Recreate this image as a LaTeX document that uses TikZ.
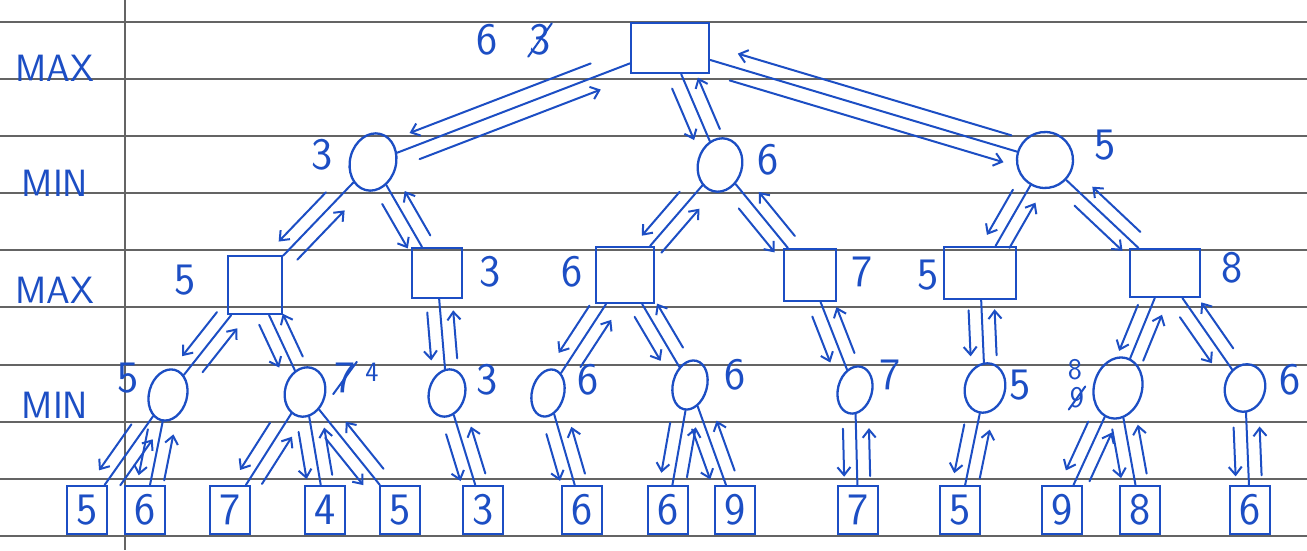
\documentclass[tikz,border=0pt]{standalone}
\usepackage{fontspec}
\usetikzlibrary{arrows.meta,shapes.geometric,calc}
\definecolor{penblue}{RGB}{28,78,196}
\definecolor{rulegray}{RGB}{100,100,100}
\newcommand\handfont{\sffamily\fontsize{45}{47}\selectfont}
\tikzset{
  pen/.style={penblue,line width=2pt,line cap=round},
  ruled/.style={rulegray,line width=1.3pt},
  godown/.style={pen,-{Straight Barb[length=8pt,width=13pt]}},
  goup/.style={pen,-{Straight Barb[length=8pt,width=13pt]}},
  maxbox/.style n args={2}{draw=penblue,line width=2.3pt,inner sep=0pt,
                           minimum width=#1,minimum height=#2},
  minoval/.style n args={2}{ellipse,draw=penblue,line width=2.3pt,inner sep=0pt,
                            minimum width=#1,minimum height=#2,rotate=-15},
  leaf/.style={draw=penblue,line width=2.3pt,inner sep=0pt,minimum width=40pt,
               minimum height=48pt,text=penblue,font=\handfont},
  val/.style={text=penblue,font=\handfont,inner sep=1pt},
  crossed/.style={append after command={(\tikzlastnode.north east) edge[pen] (\tikzlastnode.south west)}},
  row/.style={text=penblue,font=\sffamily\fontsize{38}{40}\selectfont,inner sep=0pt}
}
\begin{document}
\begin{tikzpicture}[x=1pt,y=-1pt]
  % paper with ruled lines and margin
  \fill[white] (0,0) rectangle (1307,550);
  \useasboundingbox (0,0) rectangle (1307,550);
  \foreach \y in {22,79,136,193,250,307,365,422,479,536} {\draw[ruled] (0,\y)--(1307,\y);}
  \draw[ruled] (125,0)--(125,550);

  % players per level
  \node[row] at (55,68) {MAX};
  \node[row] at (55,183) {MIN};
  \node[row] at (55,290) {MAX};
  \node[row] at (55,405) {MIN};

  % root and first MIN level
  \node[maxbox={78pt}{50pt}] (r) at (670,48) {};
  \node[minoval={46pt}{58pt}] (a) at (373,162) {};
  \node[minoval={44pt}{54pt}] (b) at (720,165) {};
  \node[minoval={56pt}{56pt}] (c) at (1045,160) {};

  % second MAX level
  \node[maxbox={54pt}{58pt}] (aa) at (255,285) {};
  \node[maxbox={50pt}{50pt}] (ab) at (437,273) {};
  \node[maxbox={58pt}{56pt}] (ba) at (625,275) {};
  \node[maxbox={52pt}{52pt}] (bb) at (810,275) {};
  \node[maxbox={72pt}{52pt}] (ca) at (980,273) {};
  \node[maxbox={70pt}{48pt}] (cb) at (1165,273) {};

  % second MIN level
  \node[minoval={38pt}{52pt}] (aaa) at (168,395) {};
  \node[minoval={40pt}{50pt}] (aab) at (305,392) {};
  \node[minoval={36pt}{48pt}] (aba) at (447,393) {};
  \node[minoval={32pt}{48pt}] (baa) at (548,393) {};
  \node[minoval={34pt}{50pt}] (bab) at (690,385) {};
  \node[minoval={34pt}{48pt}] (bba) at (855,390) {};
  \node[minoval={40pt}{50pt}] (caa) at (985,388) {};
  \node[minoval={48pt}{62pt}] (cba) at (1118,388) {};
  \node[minoval={40pt}{48pt}] (cbb) at (1245,388) {};

  % terminal values
  \node[leaf] (l1) at (87,510) {5};
  \node[leaf] (l2) at (145,510) {6};
  \node[leaf] (l3) at (230,510) {7};
  \node[leaf] (l4) at (325,510) {4};
  \node[leaf] (l5) at (400,510) {5};
  \node[leaf] (l6) at (483,510) {3};
  \node[leaf] (l7) at (582,510) {6};
  \node[leaf] (l8) at (668,510) {6};
  \node[leaf] (l9) at (735,510) {9};
  \node[leaf] (l10) at (858,510) {7};
  \node[leaf] (l11) at (960,510) {5};
  \node[leaf] (l12) at (1062,510) {9};
  \node[leaf] (l13) at (1140,510) {8};
  \node[leaf] (l14) at (1250,510) {6};

  % backed-up values
  \node[val] (rv) at (487,40) {6};
  \node[val,crossed] (rvold) at (540,40) {3};
  \node[val] (av) at (322,155) {3};
  \node[val] (bv) at (768,160) {6};
  \node[val] (cv) at (1105,145) {5};
  \node[val] (aav) at (185,280) {5};
  \node[val] (abv) at (490,272) {3};
  \node[val] (bav) at (572,272) {6};
  \node[val] (bbv) at (862,272) {7};
  \node[val] (cav) at (928,275) {5};
  \node[val] (cbv) at (1232,268) {8};
  \node[val] (aaav) at (128,378) {5};
  \node[val,crossed] (aabold) at (345,378) {7};
  \node[val,font=\sffamily\fontsize{28}{30}\selectfont] (aabv) at (372,372) {4};
  \node[val] (abav) at (487,380) {3};
  \node[val] (baav) at (588,380) {6};
  \node[val] (babv) at (735,375) {6};
  \node[val] (bbav) at (890,375) {7};
  \node[val] (caav) at (1020,385) {5};
  \node[val,font=\sffamily\fontsize{30}{32}\selectfont] (cbav) at (1075,370) {8};
  \node[val,crossed,font=\sffamily\fontsize{30}{32}\selectfont] (cbaold) at (1077,398) {9};
  \node[val] (cbbv) at (1290,380) {6};

  % edges with the search going down (left) and values coming up (right)
  \foreach \p/\q/\s/\e in {r/a/.25/.86,r/b/.3/.74,r/c/.17/.9} {
    \draw[pen] (\p)--(\q);
    \draw[godown] ($(\p)!\s!(\q)!14pt!-90:(\q)$)--($(\p)!\e!(\q)!14pt!-90:(\q)$);
    \draw[goup] ($(\p)!\e!(\q)!14pt!90:(\q)$)--($(\p)!\s!(\q)!14pt!90:(\q)$);
  }
  \foreach \p/\q in {a/aa,a/ab,b/ba,b/bb,c/ca,c/cb,
                     aa/aaa,aa/aab,ab/aba,ba/baa,ba/bab,bb/bba,ca/caa,cb/cba,cb/cbb,
                     aaa/l1,aaa/l2,aab/l3,aab/l4,aab/l5,aba/l6,baa/l7,bab/l8,bab/l9,
                     bba/l10,caa/l11,cba/l12,cba/l13,cbb/l14} {
    \draw[pen] (\p)--(\q);
    \draw[godown] ($(\p)!.32!(\q)!13pt!-90:(\q)$)--($(\p)!.72!(\q)!13pt!-90:(\q)$);
    \draw[goup] ($(\p)!.72!(\q)!13pt!90:(\q)$)--($(\p)!.32!(\q)!13pt!90:(\q)$);
  }
\end{tikzpicture}
\end{document}
